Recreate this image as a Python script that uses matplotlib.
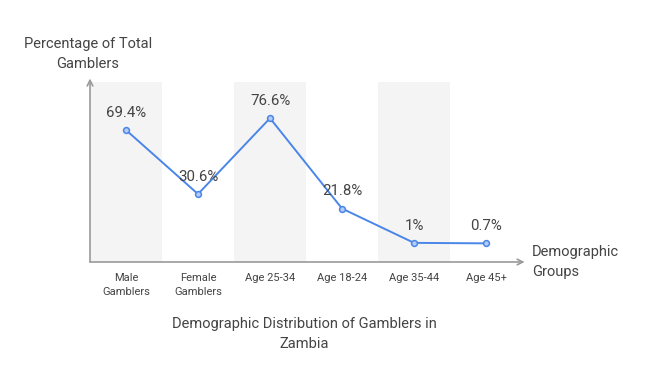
import matplotlib.pyplot as plt

plt.rcParams['font.family'] = ['Roboto', 'DejaVu Sans']

groups = ["Male\nGamblers", "Female\nGamblers", "Age 25-34", "Age 18-24", "Age 35-44", "Age 45+"]
pct = [69.4, 30.6, 76.6, 21.8, 1.0, 0.7]
pct_labels = ["69.4%", "30.6%", "76.6%", "21.8%", "1%", "0.7%"]

BLUE = "#4a86e8"
GRAY = "#9a9a9a"
TXT = "#444444"

fig = plt.figure(figsize=(6.48, 3.89), dpi=100)
ax = fig.add_axes([0.1389, 0.3265, 0.6667, 0.4625])

x = list(range(len(groups)))
for i in x:
    if i % 2 == 0:
        ax.axvspan(i - 0.5, i + 0.5, color="#f4f4f4", lw=0, zorder=0)

ax.plot(x, pct, color=BLUE, lw=1.4, marker="o", ms=4.2,
        mfc="#b3cbf6", mec=BLUE, mew=1.1, zorder=3)

for xi, yi, lab in zip(x, pct, pct_labels):
    ax.annotate(lab, (xi, yi), xytext=(0, 12.5), textcoords="offset points",
                ha="center", va="center", fontsize=10.8, color=TXT, zorder=4)

ax.set_xlim(-0.5, 5.5)
ax.set_ylim(-10.6, 98.5)
for s in ax.spines.values():
    s.set_visible(False)
ax.set_yticks([])
ax.set_xticks(x)
ax.set_xticklabels(groups, fontsize=8, color=TXT, linespacing=1.45)
ax.tick_params(axis="x", length=0, pad=8)

# axis lines with chevron arrows
ax.annotate("", xy=(1.006, 0), xytext=(0, 0), xycoords="axes fraction",
            arrowprops=dict(arrowstyle="->", color=GRAY, lw=1.2,
                            shrinkA=0, shrinkB=0), annotation_clip=False)
ax.annotate("", xy=(0, 1.02), xytext=(0, 0), xycoords="axes fraction",
            arrowprops=dict(arrowstyle="->", color=GRAY, lw=1.2,
                            shrinkA=0, shrinkB=0), annotation_clip=False)

fig.text(88 / 648, 1 - 54 / 389, "Percentage of Total\nGamblers", ha="center",
         va="center", fontsize=10.5, color=TXT, linespacing=1.5)
fig.text(532 / 648, 1 - 262 / 389, "Demographic\nGroups", ha="left",
         va="center", fontsize=10.5, color=TXT, linespacing=1.5)
fig.text(304 / 648, 1 - 334 / 389, "Demographic Distribution of Gamblers in\nZambia",
         ha="center", va="center", fontsize=10.5, color=TXT, linespacing=1.5)

fig.savefig("out.png", dpi=100, facecolor="white")
